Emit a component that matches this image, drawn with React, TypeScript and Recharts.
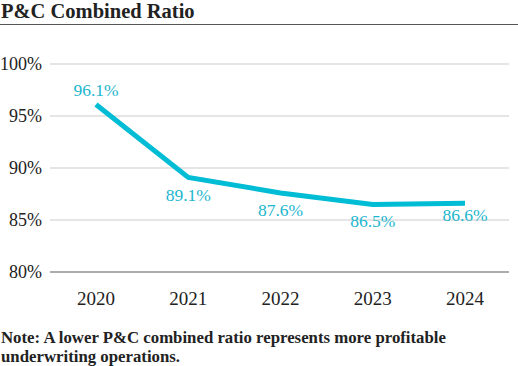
import React from "react";
import { CartesianGrid, LabelList, Line, LineChart, XAxis, YAxis } from "recharts";

const years = ["2020", "2021", "2022", "2023", "2024"];
const combinedRatio = [96.1, 89.1, 87.6, 86.5, 86.6];
const yTicks = [80, 85, 90, 95, 100];

const data = years.map((year, i) => ({ year, ratio: combinedRatio[i] }));

const SERIF = "Liberation Serif";
const CYAN = "#00BCD4";

// first label sits above the point, the rest below
const labelDy = [-9, 24, 23, 23, 18];

function PointLabel(props: any) {
  const { x, y, value, index } = props;
  return (
    <text
      x={x}
      y={y + labelDy[index]}
      textAnchor="middle"
      fill="#1BB6CF"
      fontFamily={SERIF}
      fontSize={17.5}
    >
      {`${value.toFixed(1)}%`}
    </text>
  );
}

export default function App() {
  return (
    <div
      style={{
        position: "fixed",
        top: 0,
        left: 0,
        width: 518,
        height: 366,
        background: "#fff",
        fontFamily: SERIF,
      }}
    >
      <div
        style={{
          position: "absolute",
          top: 0,
          left: 1,
          fontSize: 20.5,
          fontWeight: 700,
          color: "#222",
          lineHeight: "22px",
        }}
      >
        P&amp;C Combined Ratio
      </div>
      <div
        style={{
          position: "absolute",
          top: 24,
          left: 0,
          width: 518,
          height: 0,
          borderTop: "1.5px solid #555",
        }}
      />
      <div style={{ position: "absolute", top: 0, left: 0 }}>
        <LineChart
          width={518}
          height={320}
          data={data}
          margin={{ top: 64, right: 9, bottom: 18, left: 0 }}
        >
          <CartesianGrid vertical={false} stroke="#DDDDDD" strokeWidth={1.5} />
          <XAxis
            dataKey="year"
            height={30}
            padding={{ left: 46, right: 44 }}
            tickLine={false}
            axisLine={{ stroke: "#999999", strokeWidth: 1.5 }}
            tickSize={6}
            tickMargin={14}
            tick={{ fill: "#222", fontSize: 19, fontFamily: SERIF }}
          />
          <YAxis
            domain={[80, 100]}
            ticks={yTicks}
            width={50}
            axisLine={false}
            tickLine={false}
            tickSize={0}
            tickMargin={8}
            tickFormatter={(v: number) => `${v}%`}
            tick={{ fill: "#222", fontSize: 18, fontFamily: SERIF }}
          />
          <Line
            dataKey="ratio"
            stroke={CYAN}
            strokeWidth={5}
            dot={false}
            isAnimationActive={false}
          >
            <LabelList dataKey="ratio" content={<PointLabel />} />
          </Line>
        </LineChart>
      </div>
      <div
        style={{
          position: "absolute",
          top: 328,
          left: 1,
          width: 517,
          fontSize: 16.8,
          fontWeight: 700,
          color: "#222",
          lineHeight: "19px",
          whiteSpace: "nowrap",
        }}
      >
        Note: A lower P&amp;C combined ratio represents more profitable
        <br />
        underwriting operations.
      </div>
    </div>
  );
}
